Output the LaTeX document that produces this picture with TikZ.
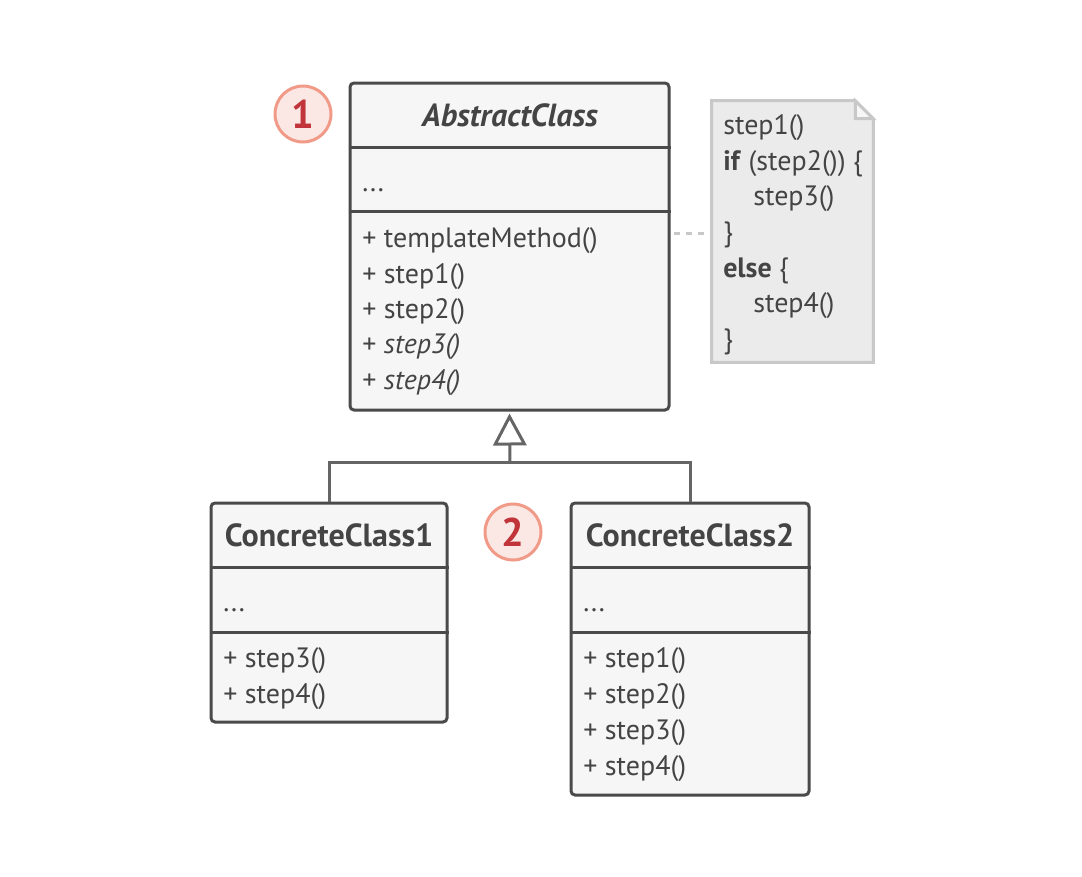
\documentclass[tikz,border=0pt]{standalone}
\usepackage{fontspec}
\setmainfont{PT Sans}
\usepackage{tikz}
\usetikzlibrary{arrows.meta}

\definecolor{umlline}{RGB}{74,74,74}
\definecolor{umlfill}{RGB}{246,246,246}
\definecolor{notefill}{RGB}{235,235,235}
\definecolor{noteline}{RGB}{200,200,200}
\definecolor{badgefill}{RGB}{251,232,228}
\definecolor{badgeline}{RGB}{240,154,135}
\definecolor{badgetext}{RGB}{192,52,58}
\definecolor{umltext}{RGB}{68,68,68}

\tikzset{
  classbox/.style={draw=umlline, fill=umlfill, line width=2.25pt, rounded corners=3pt, inner sep=0pt},
  divider/.style={draw=umlline, line width=2.25pt},
  classname/.style={font=\fontsize{24}{28}\selectfont\bfseries, text=umltext, inner sep=0pt},
  member/.style={font=\fontsize{21}{25}\selectfont, text=umltext, inner sep=0pt, anchor=west, text height=0.75em, text depth=0.25em, yshift=-3pt},
  badge/.style={circle, draw=badgeline, fill=badgefill, line width=2.25pt, minimum size=42pt, inner sep=0pt, text=badgetext, font=\fontsize{30}{34}\selectfont\bfseries},
}

\begin{document}
\begin{tikzpicture}[x=0.75pt,y=0.75pt,yscale=-1,xscale=1]
\useasboundingbox (0,0) rectangle (1082,876);

%Class: AbstractClass
\node [classbox, minimum width=239.25pt, minimum height=245.25pt] (abs) at (509.5,246.5) {};
\draw [divider] (abs.west |- 0,147) -- (abs.east |- 0,147);
\draw [divider] (abs.west |- 0,211) -- (abs.east |- 0,211);
\node [classname, font=\fontsize{24}{28}\selectfont\bfseries\itshape] (absname) at (510,115) {AbstractClass};
\node [member] (absattr) at (362,184) {...};
\node [member] (absm1) at (362,240) {+ templateMethod()};
\node [member] (absm2) at (362,276) {+ step1()};
\node [member] (absm3) at (362,311) {+ step2()};
\node [member] (absm4) at (362,346) {+ \textit{step3()}};
\node [member] (absm5) at (362,382) {+ \textit{step4()}};

%Badge 1
\node [badge] (badge1) at (303,114) {1};

%Note: template method
\node [minimum width=120.75pt, minimum height=195.75pt, inner sep=0pt] (note) at (792.5,231.5) {};
\draw [draw=noteline, fill=notefill, line width=2.25pt, line join=miter]
  (note.north west) -- ([xshift=-13.5pt]note.north east) -- ([yshift=13.5pt]note.north east)
  -- (note.south east) -- (note.south west) -- cycle;
\draw [draw=noteline, fill=notefill!40!white, line width=2.25pt, line join=miter]
  ([xshift=-13.5pt]note.north east) -- ([xshift=-13.5pt,yshift=13.5pt]note.north east) -- ([yshift=13.5pt]note.north east) -- cycle;
\node [member] (n1) at (723,127) {step1()};
\node [member] (n2) at (723,163) {\textbf{if} (step2()) \{};
\node [member] (n3) at (753,198) {step3()};
\node [member] (n4) at (723,234) {\}};
\node [member] (n5) at (723,270) {\textbf{else} \{};
\node [member] (n6) at (753,305) {step4()};
\node [member] (n7) at (723,341) {\}};

%Dashed link to note
\draw [draw=noteline, line width=2.25pt, dash pattern=on 4.5pt off 4.5pt] (abs.east |- 0,233) ++(3,0) -- (note.west |- 0,233);

%Class: ConcreteClass1
\node [classbox, minimum width=177pt, minimum height=164.25pt] (cc1) at (329,612.5) {};
\draw [divider] (cc1.west |- 0,567) -- (cc1.east |- 0,567);
\draw [divider] (cc1.west |- 0,632) -- (cc1.east |- 0,632);
\node [classname] (cc1name) at (329,535) {ConcreteClass1};
\node [member] (cc1attr) at (223,604) {...};
\node [member] (cc1m1) at (223,660) {+ step3()};
\node [member] (cc1m2) at (223,696) {+ step4()};

%Class: ConcreteClass2
\node [classbox, minimum width=178.5pt, minimum height=219pt] (cc2) at (690,649) {};
\draw [divider] (cc2.west |- 0,567) -- (cc2.east |- 0,567);
\draw [divider] (cc2.west |- 0,632) -- (cc2.east |- 0,632);
\node [classname] (cc2name) at (690,535) {ConcreteClass2};
\node [member] (cc2attr) at (583,604) {...};
\node [member] (cc2m1) at (583,660) {+ step1()};
\node [member] (cc2m2) at (583,696) {+ step2()};
\node [member] (cc2m3) at (583,732) {+ step3()};
\node [member] (cc2m4) at (583,768) {+ step4()};

%Badge 2
\node [badge] (badge2) at (513,532) {2};

%Inheritance
\coordinate (join) at (510,462);
\draw [draw=umlline!85, line width=2.25pt] (cc1.north) |- (join) -| (cc2.north);
\draw [draw=umlline!85, line width=2.25pt, -{Triangle[open, length=24pt, width=25pt, fill=white]}] (join) -- ([yshift=1.5pt]abs.south);

\end{tikzpicture}
\end{document}
